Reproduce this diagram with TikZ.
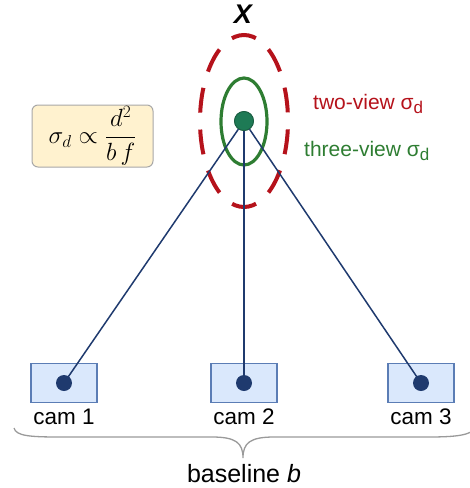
\documentclass[tikz,border=0pt]{standalone}
\usepackage{fontspec}
\setmainfont{Liberation Sans}
\usetikzlibrary{calc}
\definecolor{ptgreen}{HTML}{1E7A55}
\definecolor{ptedge}{HTML}{1B5E42}
\definecolor{twored}{HTML}{B5121B}
\definecolor{threegreen}{HTML}{2E7D32}
\definecolor{raynavy}{HTML}{1F3A6E}
\definecolor{camfill}{HTML}{DAE8FC}
\definecolor{camedge}{HTML}{5B7DB5}
\definecolor{notefill}{HTML}{FFF2CF}
\definecolor{noteedge}{HTML}{A8A8A8}
\definecolor{bracegray}{HTML}{9A9A9A}
\newcommand{\sdsub}{\raisebox{-0.3ex}{\fontsize{17}{20}\selectfont d}}
\tikzset{
  cambox/.style={draw=camedge, fill=camfill, line width=1.2pt, minimum width=66pt, minimum height=39pt, inner sep=0pt},
  camdot/.style={circle, fill=raynavy, minimum size=16pt, inner sep=0pt},
  camlabel/.style={font=\fontsize{22.5}{26}\selectfont, inner sep=0pt},
  ray/.style={draw=raynavy, line width=1.5pt},
  pointdot/.style={circle, fill=ptgreen, draw=ptedge, line width=0.8pt, minimum size=19pt, inner sep=0pt},
  legend/.style={font=\fontsize{21}{25}\selectfont, inner sep=0pt},
}
\begin{document}
\begin{tikzpicture}[x=1pt,y=-1pt]
\useasboundingbox (0,0) rectangle (470,488);

% uncertainty ellipses around the triangulated point
\draw[twored, line width=4pt, dash pattern=on 25pt off 16.9pt, dash phase=33.5pt] (244,121) ellipse [x radius=44, y radius=86];
\draw[threegreen, line width=3.2pt] (244,121.5) ellipse [x radius=23, y radius=43.5];

% cameras
\node[cambox] (box1) at (64,383) {};
\node[cambox] (box2) at (244,383) {};
\node[cambox] (box3) at (421,383) {};
\node[camdot] (c1) at (64,383) {};
\node[camdot] (c2) at (244,383) {};
\node[camdot] (c3) at (421,383) {};
\node[camlabel] (l1) at (64,417) {cam 1};
\node[camlabel] (l2) at (244,417) {cam 2};
\node[camlabel] (l3) at (421,417) {cam 3};

% 3D point and viewing rays
\node[pointdot] (X) at (244,121) {};
\draw[ray] (c1.center) -- (X);
\draw[ray] (c2.center) -- (X);
\draw[ray] (c3.center) -- (X);
\node[pointdot] at (X) {};

\node[font=\fontsize{27}{30}\selectfont\bfseries\itshape, inner sep=0pt] (xlabel) at (243,14) {X};

% legend
\node[legend, text=twored, anchor=west] (two) at (313,104) {two-view σ\sdsub};
\node[legend, text=threegreen, anchor=west] (three) at (304,151) {three-view σ\sdsub};

% depth-error relation
\node[draw=noteedge, fill=notefill, line width=1pt, rounded corners=6pt, minimum width=121pt, minimum height=62pt, inner sep=0pt] (rel) at (92.5,136)
  {\fontsize{25}{30}\selectfont$\displaystyle\sigma_d \propto \frac{d^2}{b\,f}$};

% baseline brace
\coordinate (bl) at (14,428);
\coordinate (tip) at (243,458);
\coordinate (br) at (476,428);
\draw[bracegray, line width=1.3pt]
  (bl) .. controls (16,436) and (30,437) .. (60,437) -- (212,437)
  .. controls (236,437) and (243,443) .. (tip)
  .. controls (243,443) and (250,437) .. (274,437) -- (428,437)
  .. controls (458,437) and (470,435) .. (br);
\node[font=\fontsize{25}{29}\selectfont, inner sep=0pt] (base) at (244,474) {baseline \textit{b}};
\end{tikzpicture}
\end{document}
